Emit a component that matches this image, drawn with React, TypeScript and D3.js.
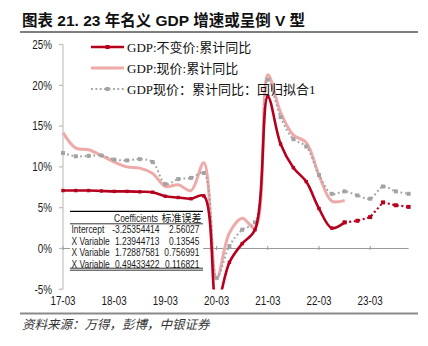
import React from "react";
import * as d3 from "d3";

const quarters = [
  "17-03","17-06","17-09","17-12","18-03","18-06","18-09","18-12",
  "19-03","19-06","19-09","19-12","20-03","20-06","20-09","20-12",
  "21-03","21-06","21-09","21-12","22-03","22-06","22-09","22-12",
  "23-03","23-06","23-09","23-12",
];
const tickLabels = ["17-03","18-03","19-03","20-03","21-03","22-03","23-03"];
const yTicks = [-5, 0, 5, 10, 15, 20, 25];

// GDP:不变价:累计同比 (actual, 17-03 .. 22-09)
const realGdp = [7.1,7.1,7.1,7.05,7.0,7.0,6.95,6.9,6.4,6.25,6.1,6.45,-6.8,-1.7,0.6,2.3,18.6,12.8,9.9,8.2,4.9,2.5,3.2];
// forecast part (22-09 .. 23-12)
const realGdpForecast = [3.2,3.4,3.85,5.65,5.3,5.1];
const forecastStart = 22;
// GDP:现价:累计同比
const nominalGdp = [14.2,12.3,12.1,11.4,10.6,10.0,9.85,9.2,7.6,7.8,7.1,10.5,-3.7,1.9,3.7,2.5,21.3,16.7,13.9,13.0,9.0,5.8,5.9];
// GDP现价：累计同比：回归拟合1
const fittedGdp = [11.7,11.3,11.35,11.4,10.9,10.8,10.95,10.6,7.9,8.5,8.65,9.25,-3.6,0.3,2.3,3.2,20.7,16.1,13.4,12.5,9.0,6.7,7.0,6.5,6.1,7.6,7.0,6.7];

const legendLabels = ["GDP:不变价:累计同比", "GDP:现价:累计同比", "GDP现价：累计同比：回归拟合1"];

const tableHeader = ["", "Coefficients", "标准误差"];
const tableLabels = ["Intercept", "X Variable", "X Variable", "X Variable"];
const tableCoef = ["-3.25354414", "1.23944713", "1.72887581", "0.49433422"];
const tableErr = ["2.56027", "0.13545", "0.756991", "0.116821"];

const RED = "#B5001E";
const PINK = "#F0A9A9";
const GRAY = "#A3A3A3";
const SANS = "'Liberation Sans',Arial,sans-serif";

function NText(props: { x: number; y: number; anchor?: string; size: number; children: React.ReactNode }) {
  const { x, y, anchor = "start", size, children } = props;
  return (
    <text transform={`translate(${x},${y}) scale(0.82,1)`} textAnchor={anchor as any}
      fontSize={size} fill="#1a1a1a" fontFamily={SANS}>{children}</text>
  );
}

export default function App() {
  const W = 428, H = 346;
  const x = d3.scaleLinear().domain([0, quarters.length - 1]).range([63, 408.6]);
  const y = d3.scaleLinear().domain([-5, 25]).range([289.3, 44.5]);

  const smooth = d3.line<number>().x((_, i) => x(i)).y(d => y(d)).curve(d3.curveCatmullRom.alpha(0.5));
  const straight = d3.line<number>().x((_, i) => x(i + forecastStart)).y(d => y(d));

  const y0 = y(0);
  const yearIdx = tickLabels.map(t => quarters.indexOf(t));
  const ms = 3.4;

  return (
    <svg width={W} height={H} style={{ position: "absolute", left: 0, top: 0, background: "#fff" }}>
      <defs>
        <clipPath id="plot">
          <rect x={58} y={40} width={360} height={249.5} />
        </clipPath>
      </defs>
      {/* title */}
      <text x={22} y={26} fontSize={15.5} fontWeight="bold" fill="#111"
        fontFamily="'Liberation Sans','Noto Sans CJK SC',sans-serif">图表 21. 23 年名义 GDP 增速或呈倒 V 型</text>
      <line x1={20} x2={418} y1={32} y2={32} stroke="#7f7f7f" strokeWidth={1.8} />

      {/* y axis */}
      <line x1={63} x2={63} y1={y(25)} y2={y(-5)} stroke="#cfcfcf" strokeWidth={1.5} />
      {yTicks.map(t => (
        <g key={t}>
          <line x1={59} x2={63} y1={y(t)} y2={y(t)} stroke="#bdbdbd" strokeWidth={1.2} />
          <NText x={52} y={y(t) + 4.3} anchor="end" size={12}>{t}%</NText>
        </g>
      ))}

      {/* x axis at 0 */}
      <line x1={63} x2={x(quarters.length - 1)} y1={y0} y2={y0} stroke="#9a9a9a" strokeWidth={1.2} />
      {yearIdx.map((i, k) => (
        <g key={k}>
          <line x1={x(i)} x2={x(i)} y1={y0 - 2.5} y2={y0 + 1.5} stroke="#9a9a9a" strokeWidth={1} />
          <NText x={x(i)} y={305} anchor="middle" size={12}>{tickLabels[k]}</NText>
        </g>
      ))}

      {/* regression table */}
      <g>
        <rect x={70} y={211} width={133} height={59.5} fill="#fff" />
        <line x1={70} x2={203} y1={211.3} y2={211.3} stroke="#000" strokeWidth={1.3} />
        <NText x={136} y={221.8} anchor="middle" size={10.3}>{tableHeader[1]}</NText>
        <text x={181.5} y={221.8} textAnchor="middle" fontSize={10} fill="#111" fontFamily="'Noto Sans CJK SC',sans-serif">{tableHeader[2]}</text>
        <line x1={70} x2={203} y1={223.8} y2={223.8} stroke="#000" strokeWidth={0.8} />
        {tableLabels.map((lab, i) => {
          const by = 233.3 + i * 11.4;
          return (
            <g key={i}>
              <NText x={71.5} y={by} size={10.3}>{lab}</NText>
              <NText x={159.5} y={by} anchor="end" size={10.3}>{tableCoef[i]}</NText>
              <NText x={199.5} y={by} anchor="end" size={10.3}>{tableErr[i]}</NText>
            </g>
          );
        })}
        <line x1={70} x2={203} y1={268.2} y2={268.2} stroke="#000" strokeWidth={0.8} />
        <line x1={70} x2={203} y1={270.2} y2={270.2} stroke="#000" strokeWidth={0.8} />
      </g>

      {/* series */}
      <g clipPath="url(#plot)">
        <path d={smooth(nominalGdp) || ""} fill="none" stroke={PINK} strokeWidth={3} />
        <path d={smooth(fittedGdp) || ""} fill="none" stroke={GRAY} strokeWidth={2} strokeDasharray="1.8,2.6" />
        {fittedGdp.map((v, i) => (
          <rect key={i} x={x(i) - 2} y={y(v) - 2} width={4} height={4} fill={GRAY} />
        ))}
        <path d={straight(realGdpForecast) || ""} fill="none" stroke={RED} strokeWidth={2.2} strokeDasharray="2,2.6" />
        {realGdpForecast.map((v, i) => (
          <rect key={i} x={x(i + forecastStart) - 2} y={y(v) - 2} width={4} height={4} fill={RED} />
        ))}
        <path d={smooth(realGdp) || ""} fill="none" stroke={RED} strokeWidth={2.6} />
        {realGdp.map((v, i) => (
          <rect key={i} x={x(i) - ms / 2} y={y(v) - ms / 2} width={ms} height={ms} fill={RED} />
        ))}
      </g>

      {/* legend */}
      <g fontFamily="'Liberation Serif','Noto Sans CJK SC',serif" fontSize={13} fill="#111">
        <line x1={91} x2={124} y1={47} y2={47} stroke={RED} strokeWidth={2.6} />
        <rect x={107.5 - 2} y={45} width={4} height={4} fill={RED} />
        <text x={127} y={51.5}>{legendLabels[0]}</text>
        <line x1={91} x2={124} y1={68} y2={68} stroke={PINK} strokeWidth={3} />
        <text x={127} y={72.5}>{legendLabels[1]}</text>
        <line x1={91} x2={124} y1={89} y2={89} stroke={GRAY} strokeWidth={2} strokeDasharray="1.8,2.6" />
        <rect x={107.5 - 2} y={87} width={4} height={4} fill={GRAY} />
        <text x={127} y={93.5}>{legendLabels[2]}</text>
      </g>

      {/* bottom rule & source */}
      <line x1={20} x2={418} y1={313.5} y2={313.5} stroke="#8a8a8a" strokeWidth={2} />
      <text x={22} y={329} fontSize={12.5} fontStyle="italic" fill="#333"
        fontFamily="'Noto Sans CJK SC',sans-serif">资料来源：万得，彭博，中银证券</text>
    </svg>
  );
}
